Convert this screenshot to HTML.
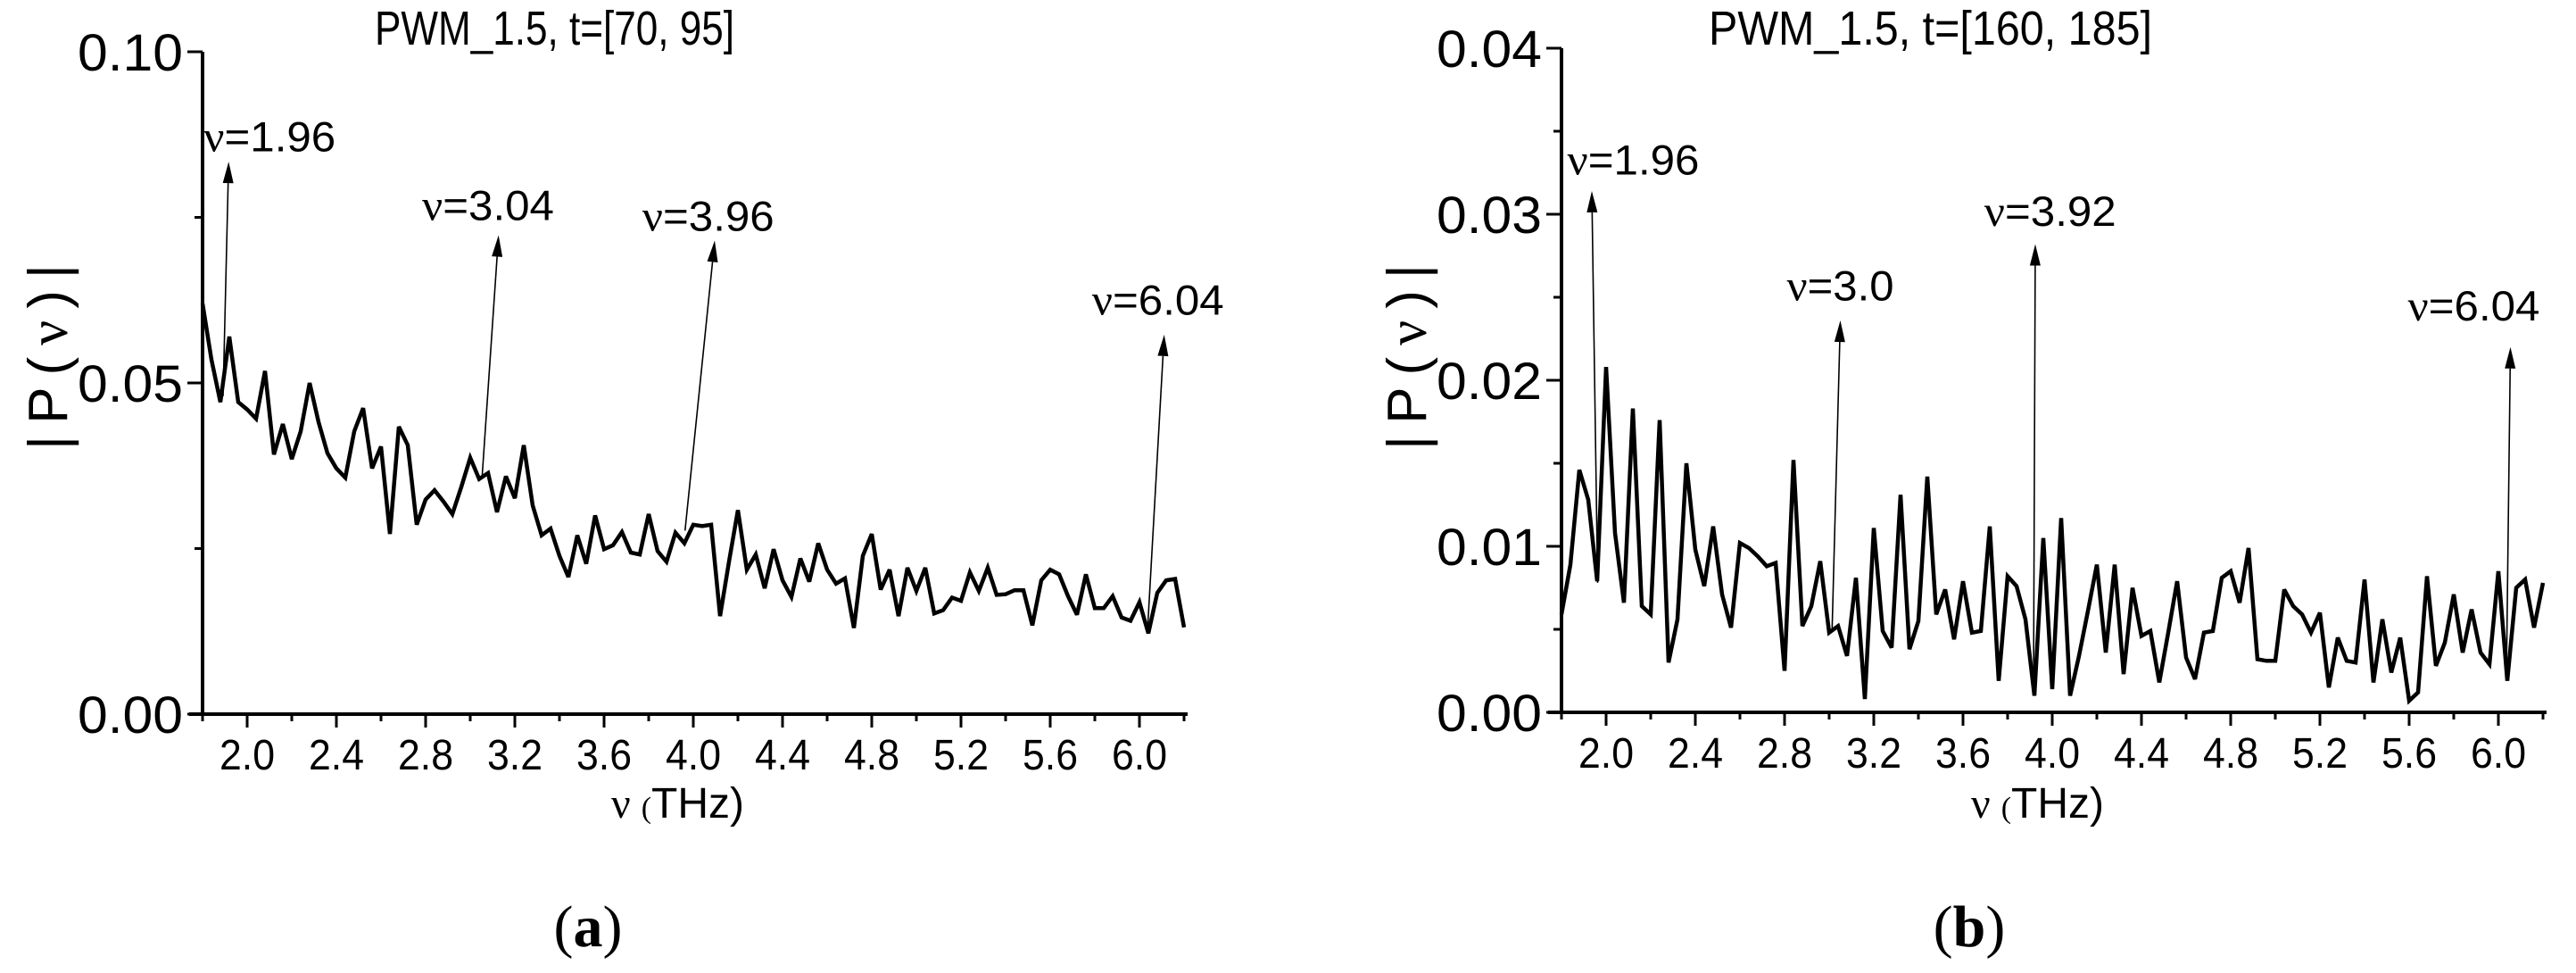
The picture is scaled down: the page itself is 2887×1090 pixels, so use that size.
<!DOCTYPE html>
<html><head><meta charset="utf-8"><style>
html,body{margin:0;padding:0;background:#fff;}
svg{display:block;}
text{fill:#000;}
</style></head>
<body>
<svg id="fig" width="2887" height="1090" viewBox="0 0 2887 1090" xmlns="http://www.w3.org/2000/svg">
  <rect width="2887" height="1090" fill="#fff"/>
  <g id="panelA"></g>
  <g id="panelB"></g>
  <text x="659" y="1060" text-anchor="middle" font-family="Liberation Serif, serif" font-size="66">(<tspan font-weight="bold">a</tspan>)</text>
  <text x="2207" y="1060" text-anchor="middle" font-family="Liberation Serif, serif" font-size="66">(<tspan font-weight="bold">b</tspan>)</text>
</svg>
<script>
const freqs = [1.80,1.84,1.88,1.92,1.96,2.00,2.04,2.08,2.12,2.16,2.20,2.24,2.28,2.32,2.36,2.40,2.44,2.48,2.52,2.56,2.60,2.64,2.68,2.72,2.76,2.80,2.84,2.88,2.92,2.96,3.00,3.04,3.08,3.12,3.16,3.20,3.24,3.28,3.32,3.36,3.40,3.44,3.48,3.52,3.56,3.60,3.64,3.68,3.72,3.76,3.80,3.84,3.88,3.92,3.96,4.00,4.04,4.08,4.12,4.16,4.20,4.24,4.28,4.32,4.36,4.40,4.44,4.48,4.52,4.56,4.60,4.64,4.68,4.72,4.76,4.80,4.84,4.88,4.92,4.96,5.00,5.04,5.08,5.12,5.16,5.20,5.24,5.28,5.32,5.36,5.40,5.44,5.48,5.52,5.56,5.60,5.64,5.68,5.72,5.76,5.80,5.84,5.88,5.92,5.96,6.00,6.04,6.08,6.12,6.16,6.20];
const seriesA = [.0620,.0535,.0471,.0570,.0471,.0460,.0446,.0518,.0392,.0438,
.0385,.0427,.0500,.0441,.0394,.0371,.0357,.0427,.0462,.0371,
.0404,.0272,.0434,.0406,.0286,.0324,.0338,.0321,.0302,.0343,
.0387,.0355,.0364,.0305,.0359,.0326,.0406,.0315,.0270,.0280,
.0239,.0207,.0270,.0227,.0300,.0249,.0255,.0275,.0244,.0241,
.0302,.0246,.0230,.0274,.0258,.0286,.0284,.0286,.0148,.0230,
.0308,.0218,.0241,.0190,.0249,.0202,.0177,.0235,.0200,.0258,
.0218,.0197,.0205,.0130,.0239,.0272,.0188,.0218,.0148,.0221,
.0186,.0221,.0152,.0157,.0176,.0171,.0214,.0186,.0221,.0180,
.0181,.0187,.0187,.0134,.0202,.0218,.0211,.0178,.0150,.0211,
.0160,.0160,.0178,.0146,.0141,.0169,.0122,.0183,.0202,.0204,
.0131];
const seriesB = [.0059,.0089,.0146,.0128,.0079,.0208,.0108,.0066,.0183,.0064,
.0059,.0176,.0030,.0056,.0150,.0098,.0076,.0112,.0071,.0051,
.0102,.0099,.0094,.0088,.0090,.0025,.0152,.0052,.0064,.0091,
.0048,.0052,.0034,.0081,.0008,.0111,.0049,.0039,.0131,.0038,
.0055,.0142,.0059,.0074,.0044,.0079,.0048,.0049,.0112,.0019,
.0082,.0076,.0056,.0010,.0105,.0014,.0117,.0010,.0034,.0061,
.0089,.0036,.0089,.0023,.0075,.0046,.0049,.0018,.0048,.0079,
.0033,.0020,.0048,.0049,.0081,.0085,.0066,.0099,.0032,.0031,
.0031,.0074,.0064,.0059,.0048,.0060,.0015,.0045,.0031,.0030,
.0080,.0018,.0056,.0024,.0045,.0007,.0012,.0082,.0028,.0042,
.0071,.0036,.0062,.0036,.0029,.0085,.0019,.0075,.0080,.0051,
.0078];
const xTickValues = [2.0,2.4,2.8,3.2,3.6,4.0,4.4,4.8,5.2,5.6,6.0];
const xTickLabels = ["2.0","2.4","2.8","3.2","3.6","4.0","4.4","4.8","5.2","5.6","6.0"];
const xMinorValues = [1.8,2.2,2.6,3.0,3.4,3.8,4.2,4.6,5.0,5.4,5.8,6.2];
const yTickValuesA = [0,0.05,0.10];
const yTickLabelsA = ["0.00","0.05","0.10"];
const yMinorValuesA = [0.025,0.075];
const yTickValuesB = [0,0.01,0.02,0.03,0.04];
const yTickLabelsB = ["0.00","0.01","0.02","0.03","0.04"];
const yMinorValuesB = [0.005,0.015,0.025,0.035];
const annotLabelsA = ["1.96","3.04","3.96","6.04"];
const annotBaseA = [[1.892,0.048],[3.053,0.0357],[3.963,0.0277],[6.037,0.0131]];
const annotTipA = [[1.917,0.0834],[3.127,0.0723],[4.096,0.0715],[6.111,0.0573]];
const annotTextA = [[1.805,0.0850],[2.784,0.0746],[3.771,0.0730],[5.787,0.0603]];
const annotLabelsB = ["1.96","3.0","3.92","6.04"];
const annotBaseB = [[1.962,0.0078],[3.013,0.0049],[3.916,0.0010],[6.036,0.0021]];
const annotTipB = [[1.936,0.0314],[3.050,0.0236],[3.924,0.0282],[6.054,0.0220]];
const annotTextB = [[1.826,0.0324],[2.810,0.0248],[3.695,0.0293],[5.594,0.0236]];

const NS = "http://www.w3.org/2000/svg";
function mk(tag, attrs, parent){
  const e = document.createElementNS(NS, tag);
  for (const k in attrs) e.setAttribute(k, attrs[k]);
  parent.appendChild(e);
  return e;
}
function drawPanel(g, cfg, ys, yTV, yTL, yMV, aL, aB, aT, aX, key){
  const sx = v => cfg.x0 + (v - 1.8) / (6.208 - 1.8) * (cfg.x1 - cfg.x0);
  const sy = v => cfg.yb - v / cfg.ymax * (cfg.yb - cfg.yt);
  let d = "";
  for (let i = 0; i < freqs.length; i++) d += (i ? "L" : "M") + sx(freqs[i]).toFixed(1) + "," + sy(ys[i]).toFixed(1);
  const ln = mk("path", {d: d, fill: "none", stroke: "#000", "stroke-width": 4.5, "stroke-linejoin": "miter", "stroke-miterlimit": 3}, g);
  
  
  const ya = mk("line", {x1: cfg.x0, y1: cfg.yt, x2: cfg.x0, y2: cfg.yb + 2, stroke: "#000", "stroke-width": 4}, g);
  
  
  const xa = mk("line", {x1: cfg.x0 - 15, y1: cfg.yb, x2: cfg.x1 + 2, y2: cfg.yb, stroke: "#000", "stroke-width": 4}, g);
  
  
  for (let i = 0; i < xTickValues.length; i++) {
    const x = sx(xTickValues[i]);
    const t = mk("line", {x1: x, y1: cfg.yb, x2: x, y2: cfg.yb + 15, stroke: "#000", "stroke-width": 3}, g);
    
    
    const tl = mk("text", {x: x, y: cfg.yb + 62, "text-anchor": "middle", "font-family": "Liberation Sans, sans-serif", "font-size": 48, textLength: 62, lengthAdjust: "spacingAndGlyphs"}, g);
    tl.textContent = xTickLabels[i];
    
    
  }
  for (const v of xMinorValues) {
    const x = sx(v);
    const t = mk("line", {x1: x, y1: cfg.yb, x2: x, y2: cfg.yb + 8, stroke: "#000", "stroke-width": 3}, g);
    
    
  }
  for (let i = 0; i < yTV.length; i++) {
    const y = sy(yTV[i]);
    const t = mk("line", {x1: cfg.x0 - 17, y1: y, x2: cfg.x0, y2: y, stroke: "#000", "stroke-width": 3}, g);
    
    
    const tl = mk("text", {x: cfg.x0 - 22, y: y + 21, "text-anchor": "end", "font-family": "Liberation Sans, sans-serif", "font-size": 58, textLength: 118, lengthAdjust: "spacingAndGlyphs"}, g);
    tl.textContent = yTL[i];
    
    
  }
  for (const v of yMV) {
    const y = sy(v);
    const t = mk("line", {x1: cfg.x0 - 9, y1: y, x2: cfg.x0, y2: y, stroke: "#000", "stroke-width": 3}, g);
    
    
  }
  for (let i = 0; i < aL.length; i++) {
    const bx = sx(aB[i][0]), by = sy(aB[i][1]), tx = sx(aT[i][0]), ty = sy(aT[i][1]);
    const ang = Math.atan2(ty - by, tx - bx);
    const hl = 24, hw = 6;
    const bxh = tx - hl * Math.cos(ang), byh = ty - hl * Math.sin(ang);
    const al = mk("line", {x1: bx, y1: by, x2: bxh, y2: byh, stroke: "#000", "stroke-width": 1.6}, g);
    
    
    const px = -Math.sin(ang), py = Math.cos(ang);
    const head = mk("polygon", {points: tx + "," + ty + " " + (bxh + px * hw) + "," + (byh + py * hw) + " " + (bxh - px * hw) + "," + (byh - py * hw), fill: "#000"}, g);
    
    
    const w = aL[i].length === 3 ? 120 : 148;
    const txt = mk("text", {x: sx(aX[i][0]), y: sy(aX[i][1]), "font-family": "Liberation Sans, sans-serif", "font-size": 47, textLength: w, lengthAdjust: "spacingAndGlyphs"}, g);
    const nu = mk("tspan", {"font-family": "Liberation Serif, serif", "font-size": 49}, txt);
    nu.textContent = "ν";
    const rest = mk("tspan", {}, txt);
    rest.textContent = "=" + aL[i];
    
    
  }
  const ti = mk("text", {x: cfg.tx, y: cfg.ty, "font-family": "Liberation Sans, sans-serif", "font-size": 54, textLength: cfg.tw, lengthAdjust: "spacingAndGlyphs"}, g);
  ti.textContent = cfg.title;
  
  
  const xt = mk("text", {x: cfg.xtx, y: 916, "font-family": "Liberation Sans, sans-serif", "font-size": 48}, g);
  const n1 = mk("tspan", {"font-family": "Liberation Serif, serif", "font-size": 48}, xt); n1.textContent = "ν ";
  const n2 = mk("tspan", {"font-family": "Liberation Serif, serif", "font-size": 34}, xt); n2.textContent = "(";
  const n3 = mk("tspan", {}, xt); n3.textContent = "THz)";
  
  
  const yt = mk("text", {x: 0, y: 0, "text-anchor": "middle", "font-family": "Liberation Sans, sans-serif", "font-size": 62, textLength: 208, lengthAdjust: "spacing", transform: "translate(" + (cfg.ytx + 22) + "," + cfg.yty + ") rotate(-90)"}, g);
  const m1 = mk("tspan", {}, yt); m1.textContent = "|P(";
  const m2 = mk("tspan", {"font-family": "Liberation Serif, serif"}, yt); m2.textContent = "ν";
  const m3 = mk("tspan", {}, yt); m3.textContent = ")|";
  
  
}
drawPanel(document.getElementById("panelA"),
  {x0: 227, x1: 1329, yb: 800, yt: 58, ymax: 0.10, tx: 420, ty: 50, tw: 403, title: "PWM_1.5, t=[70, 95]", xtx: 685, ytx: 53, yty: 400},
  seriesA, yTickValuesA, yTickLabelsA, yMinorValuesA, annotLabelsA, annotBaseA, annotTipA, annotTextA, "a");
drawPanel(document.getElementById("panelB"),
  {x0: 1750, x1: 2852, yb: 798, yt: 54, ymax: 0.04, tx: 1915, ty: 50, tw: 497, title: "PWM_1.5, t=[160, 185]", xtx: 2209, ytx: 1576, yty: 400},
  seriesB, yTickValuesB, yTickLabelsB, yMinorValuesB, annotLabelsB, annotBaseB, annotTipB, annotTextB, "b");
</script>
</body></html>
